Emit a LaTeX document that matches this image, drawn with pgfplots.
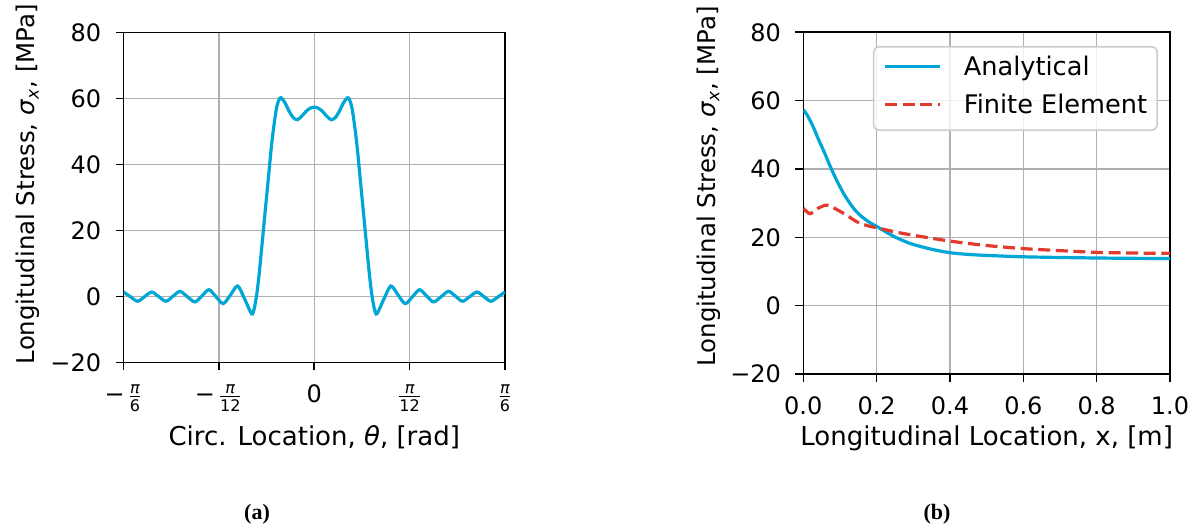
\documentclass[border=0pt]{standalone}
\usepackage{fontspec}
\setmainfont{DejaVu Sans}
\newfontfamily\capfont{Liberation Serif}
\usepackage{amsmath}
\usepackage{pgfplots}
\pgfplotsset{compat=1.18}

\definecolor{anablue}{HTML}{00A6D6}
\definecolor{ferred}{HTML}{E23B2E}
\definecolor{gridgray}{HTML}{B0B0B0}
\definecolor{leggray}{HTML}{CCCCCC}

\pgfplotsset{
  mpl/.style={
    scale only axis,
    axis line style={black, line width=0.8pt},
    grid=major,
    grid style={gridgray, line width=0.7pt},
    tick align=outside,
    tick pos=left,
    major tick length=4pt,
    every tick/.style={black, line width=0.8pt},
    tick label style={font=\fontsize{12}{14}\selectfont, inner sep=0pt},
    xticklabel style={anchor=north, yshift=-7pt},
    yticklabel style={anchor=east, xshift=-7pt},
    ymin=-20, ymax=80,
    ytick={-20,0,20,40,60,80},
    yticklabels={−20,0,20,40,60,80},
    ylabel={Longitudinal Stress, \textit{σ}\textsubscript{\textit{x}}, [MPa]},
    label style={inner sep=0pt},
    xlabel style={font=\fontsize{13}{15}\selectfont},
    ylabel style={font=\fontsize{12.2}{14}\selectfont},
    every axis plot/.append style={line width=1.6pt},
  }
}

\begin{document}
\begin{tikzpicture}
\useasboundingbox (0pt,0pt) rectangle (599pt,265.5pt);

% (a) circumferential distribution
\begin{axis}[mpl,
    at={(61.75pt,84.35pt)}, anchor=south west,
    width=190.75pt, height=165pt,
    xmin=-0.523599, xmax=0.523599,
    xtick={-0.523599,-0.261799,0,0.261799,0.523599},
    xticklabels={{$\text{−}\mskip2mu\frac{\textit{π}}{\text{6}}$},{$\text{−}\mskip2mu\frac{\textit{π}}{\text{12}}$},0,{$\frac{\textit{π}}{\text{12}}$},{$\frac{\textit{π}}{\text{6}}$}},
    xlabel={Circ. Location, \textit{θ}, [rad]},
    xlabel style={at={(axis description cs:0.5,-0.2506)}, anchor=base},
    ylabel style={at={(axis description cs:-0.232,0.540)}, anchor=base},
  ]
  \addplot[anablue, smooth] coordinates {
    (-0.5236,1.3) (-0.505,-0.1) (-0.4849,-1.5) (-0.4657,-0.1) (-0.4465,1.3)
    (-0.4268,-0.1) (-0.4071,-1.5) (-0.3879,0.0) (-0.3687,1.5) (-0.3486,-0.1)
    (-0.3275,-1.7) (-0.3083,0.1) (-0.2891,2.0) (-0.2699,-0.1) (-0.2498,-2.2)
    (-0.2306,0.3) (-0.2104,3.1) (-0.1912,-0.8) (-0.1720,-5.3) (-0.165,-3.8)
    (-0.158,0.5) (-0.151,7.0) (-0.144,15.0) (-0.1375,22.5) (-0.131,30.0)
    (-0.1245,37.5) (-0.118,45.0) (-0.111,51.5) (-0.104,56.8) (-0.0975,59.4)
    (-0.0915,60.2) (-0.0800,58.6) (-0.0695,56.2) (-0.0580,54.2) (-0.0467,53.5)
    (-0.0350,54.5) (-0.0229,56.0) (-0.0110,57.0) (0,57.3)
    (0.0110,57.0) (0.0229,56.0) (0.0350,54.5) (0.0467,53.5) (0.0580,54.2)
    (0.0695,56.2) (0.0800,58.6) (0.0915,60.2) (0.0975,59.4) (0.104,56.8)
    (0.111,51.5) (0.118,45.0) (0.1245,37.5) (0.131,30.0) (0.1375,22.5)
    (0.144,15.0) (0.151,7.0) (0.158,0.5) (0.165,-3.8) (0.1720,-5.3)
    (0.1912,-0.8) (0.2104,3.1) (0.2306,0.3) (0.2498,-2.2) (0.2699,-0.1)
    (0.2891,2.0) (0.3083,0.1) (0.3275,-1.7) (0.3486,-0.1) (0.3687,1.5)
    (0.3879,0.0) (0.4071,-1.5) (0.4268,-0.1) (0.4465,1.3) (0.4657,-0.1)
    (0.4849,-1.5) (0.505,-0.1) (0.5236,1.3)
  };
\end{axis}

% (b) longitudinal distribution
\begin{axis}[mpl,
    at={(401.65pt,78.5pt)}, anchor=south west,
    width=183.35pt, height=170.85pt,
    xmin=0, xmax=1,
    xtick={0,0.2,0.4,0.6,0.8,1.0},
    xticklabels={0.0,0.2,0.4,0.6,0.8,1.0},
    xlabel={Longitudinal Location, x, [m]},
    xlabel style={at={(axis description cs:0.5,-0.2107)}, anchor=base},
    ylabel style={at={(axis description cs:-0.2389,0.549)}, anchor=base},
    legend cell align=left,
    legend image code/.code={\path (0pt,0pt); \draw[#1] (0pt,4.6pt) -- (27.5pt,4.6pt);},
    legend style={at={(rel axis cs:0.967,0.96)}, anchor=north east,
      draw=leggray, line width=0.8pt, rounded corners=2.5pt,
      fill=white, fill opacity=0.8, draw opacity=1, text opacity=1,
      inner xsep=5pt, inner ysep=5.1pt, row sep=6.85pt, column sep=11pt,
      font=\fontsize{12.8}{15}\selectfont,
      nodes={inner sep=0pt, text height=9.3pt, text depth=3pt, anchor=base west}},
  ]
  \addplot[anablue, smooth] coordinates {
    (0,57.3) (0.01,55.9) (0.02,53.9) (0.03,51.6) (0.04,49.0) (0.05,46.6)
    (0.06,44.2) (0.07,41.6) (0.08,39.2) (0.09,36.9) (0.10,34.8) (0.11,32.8)
    (0.12,31.1) (0.13,29.5) (0.14,28.1) (0.15,27.0) (0.16,26.0) (0.18,24.4)
    (0.20,23.2) (0.225,21.6) (0.25,20.1) (0.275,18.9) (0.30,17.9) (0.35,16.5)
    (0.40,15.5) (0.45,15.0) (0.50,14.7) (0.60,14.3) (0.70,14.1) (0.80,13.95)
    (0.90,13.85) (1.00,13.8)
  };
  \addlegendentry{Analytical}
  \addplot[ferred, smooth, dash pattern=on 6pt off 2.8pt] coordinates {
    (0,28.5) (0.018,26.9) (0.035,28.2) (0.06,29.4) (0.075,29.1) (0.09,28.2)
    (0.118,26.5) (0.145,24.6) (0.175,23.4) (0.209,22.6) (0.25,21.6) (0.30,20.6)
    (0.40,18.9) (0.50,17.6) (0.60,16.7) (0.70,16.1) (0.80,15.6) (0.90,15.4)
    (1.00,15.3)
  };
  \addlegendentry{Finite Element}
\end{axis}

\node[font=\capfont\bfseries\fontsize{11}{13}\selectfont, anchor=base] at (128.5pt,6pt) {(a)};
\node[font=\capfont\bfseries\fontsize{11}{13}\selectfont, anchor=base] at (468.5pt,6pt) {(b)};
\end{tikzpicture}
\end{document}
